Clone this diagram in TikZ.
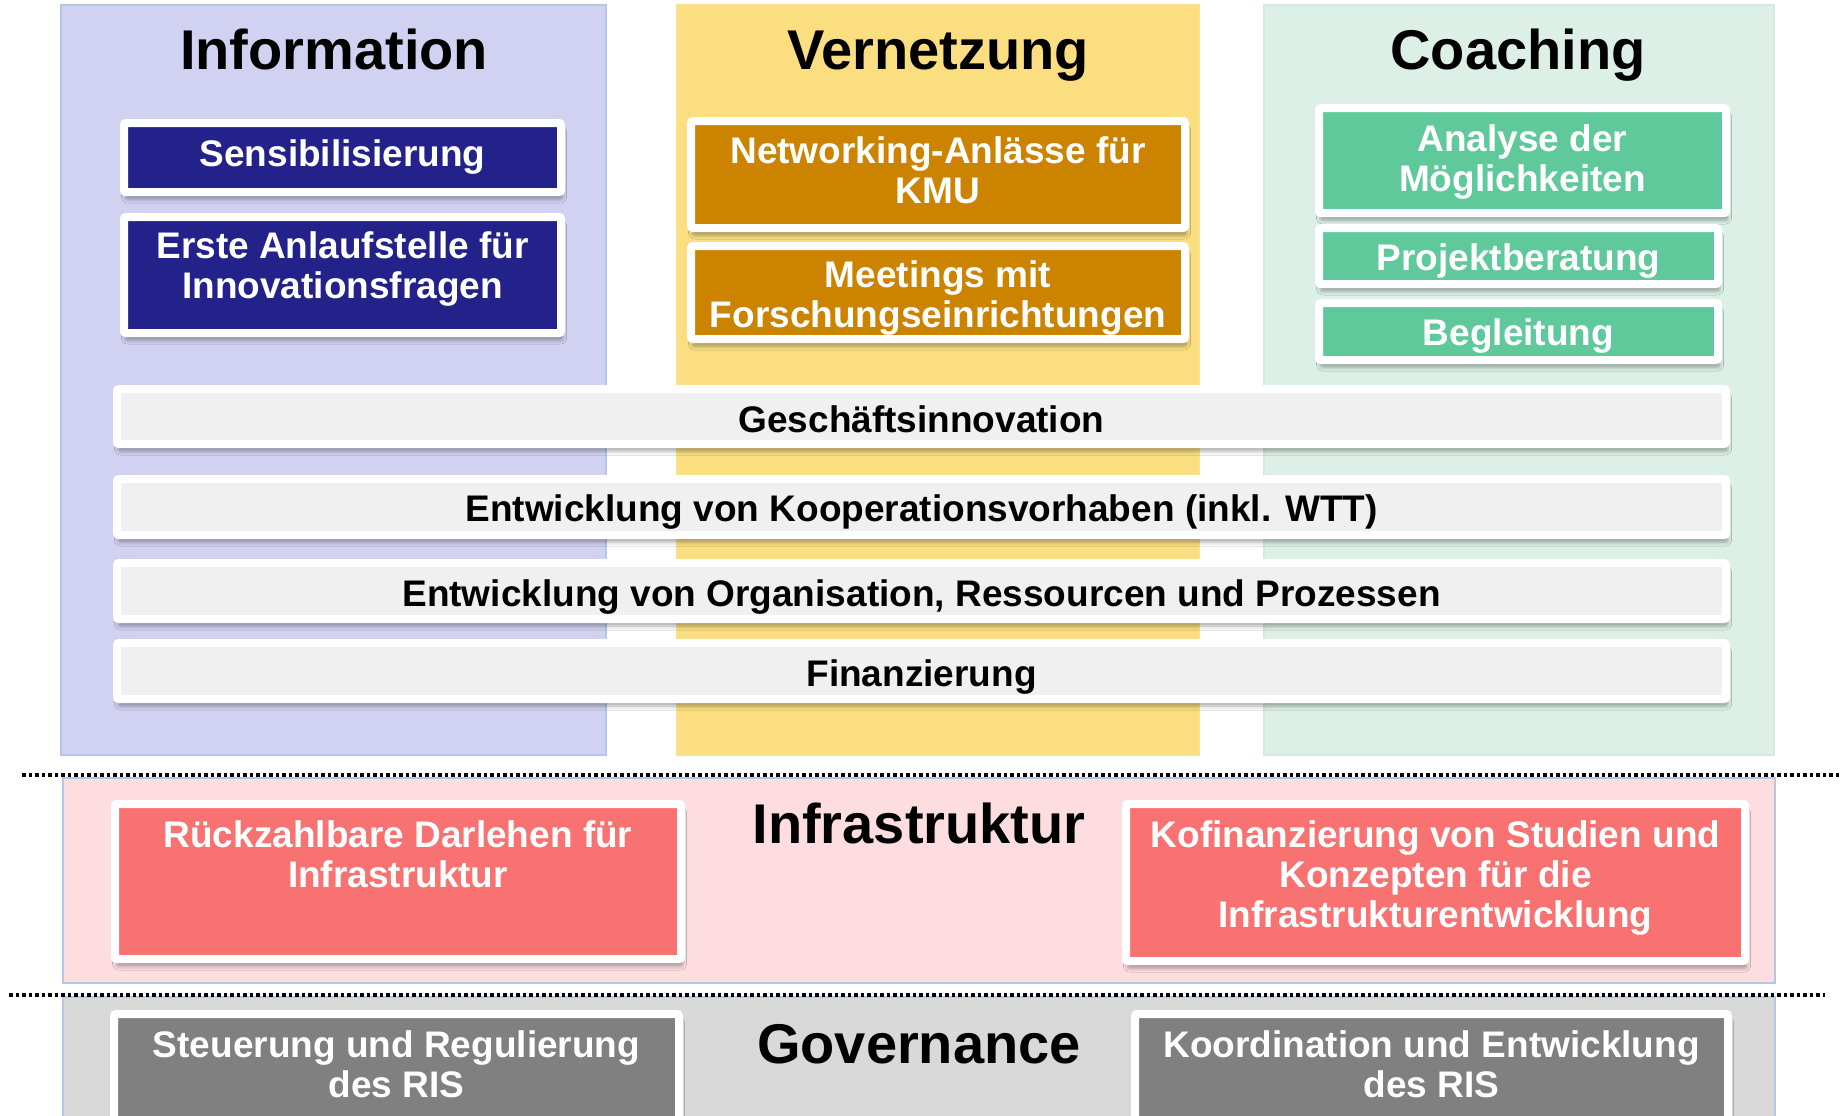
\documentclass[tikz,border=0pt]{standalone}
\usepackage{fontspec}
\setmainfont{Liberation Sans}
\usetikzlibrary{shadows.blur}
\definecolor{infoBg}{RGB}{209,209,242}
\definecolor{vernBg}{RGB}{250,222,128}
\definecolor{coachBg}{RGB}{221,240,231}
\definecolor{colBorder}{RGB}{180,199,231}
\definecolor{infoFill}{RGB}{34,34,138}
\definecolor{vernFill}{RGB}{204,132,0}
\definecolor{coachFill}{RGB}{95,201,156}
\definecolor{barFill}{RGB}{240,240,240}
\definecolor{infraBg}{RGB}{253,221,224}
\definecolor{infraFill}{RGB}{249,114,114}
\definecolor{govBg}{RGB}{217,217,217}
\definecolor{govFill}{RGB}{128,128,128}
\tikzset{
  colbox/.style={draw=colBorder, line width=1.2pt},
  card/.style={draw=white, line width=8pt, rounded corners=2pt, inner sep=0pt, outer sep=0pt,
    blur shadow={shadow xshift=1.5pt, shadow yshift=-7pt, shadow blur radius=4pt, shadow opacity=35}},
  titletext/.style={font=\fontsize{56}{60}\selectfont\bfseries, text=black, anchor=base, inner sep=0pt},
  wtext/.style={font=\fontsize{37}{40}\selectfont\bfseries, text=white, anchor=base, inner sep=0pt},
  btext/.style={font=\fontsize{37}{40}\selectfont\bfseries, text=black, anchor=base, inner sep=0pt},
  sepline/.style={line width=3.5pt, dash pattern=on 3.5pt off 3pt, black},
}
\begin{document}
\begin{tikzpicture}[x=1pt,y=-1pt]
\useasboundingbox (0,0) rectangle (1840,1116);
\fill[white] (0,0) rectangle (1840,1116);

% columns
\path[colbox, fill=infoBg] (61,5) rectangle (606,755);
\path[draw=vernBg!90!white, line width=1.2pt, fill=vernBg] (677,5) rectangle (1199,755);
\path[draw=coachBg!97!black, line width=1.2pt, fill=coachBg] (1264,5) rectangle (1774,755);

\node[titletext] (tinfo) at (334,70) {Information};
\node[titletext] (tvern) at (938,70) {Vernetzung};
\node[titletext] (tcoach) at (1518,70) {Coaching};

% Information cards
\node[card, fill=infoFill, minimum width=437pt, minimum height=69pt] (sens) at (342.5,157.5) {};
\node[wtext] (sens-t) at (342.5,166) {Sensibilisierung};
\node[card, fill=infoFill, minimum width=437pt, minimum height=116pt] (erste) at (342.5,275) {};
\node[wtext] (erste-t1) at (342.5,258) {Erste Anlaufstelle für};
\node[wtext] (erste-t2) at (342.5,298) {Innovationsfragen};

% Vernetzung cards
\node[card, fill=vernFill, minimum width=494pt, minimum height=107pt] (netw) at (938,174.5) {};
\node[wtext] (netw-t1) at (938,163) {Networking-Anlässe für};
\node[wtext] (netw-t2) at (938,203) {KMU};
\node[card, fill=vernFill, minimum width=494pt, minimum height=93pt] (meet) at (938,292.5) {};
\node[wtext] (meet-t1) at (938,287) {Meetings mit};
\node[wtext] (meet-t2) at (938,327) {Forschungseinrichtungen};

% Coaching cards
\node[card, fill=coachFill, minimum width=407pt, minimum height=105pt] (anal) at (1522.5,160.5) {};
\node[wtext] (anal-t1) at (1522.5,151) {Analyse der};
\node[wtext] (anal-t2) at (1522.5,191) {Möglichkeiten};
\node[card, fill=coachFill, minimum width=399pt, minimum height=56pt] (proj) at (1518.5,256) {};
\node[wtext] (proj-t) at (1518.5,270) {Projektberatung};
\node[card, fill=coachFill, minimum width=399pt, minimum height=57pt] (begl) at (1518.5,331.5) {};
\node[wtext] (begl-t) at (1518.5,345) {Begleitung};

% horizontal bars
\node[card, fill=barFill, minimum width=1609pt, minimum height=55pt] (bar1) at (921.5,416.5) {};
\node[btext] (bar1-t) at (921.5,432) {Geschäftsinnovation};
\node[card, fill=barFill, minimum width=1609pt, minimum height=56pt] (bar2) at (921.5,507) {};
\node[btext] (bar2-t) at (921.5,521) {Entwicklung von Kooperationsvorhaben (inkl. WTT)};
\node[card, fill=barFill, minimum width=1609pt, minimum height=56pt] (bar3) at (921.5,591) {};
\node[btext] (bar3-t) at (921.5,606) {Entwicklung von Organisation, Ressourcen und Prozessen};
\node[card, fill=barFill, minimum width=1609pt, minimum height=56pt] (bar4) at (921.5,671) {};
\node[btext] (bar4-t) at (921.5,686) {Finanzierung};

% Infrastruktur band
\path[colbox, fill=infraBg] (63,778) rectangle (1775,983);
\node[titletext] (tinfra) at (919,843) {Infrastruktur};
\node[card, fill=infraFill, minimum width=566pt, minimum height=155pt] (darl) at (398,881.5) {};
\node[wtext] (darl-t1) at (398,847) {Rückzahlbare Darlehen für};
\node[wtext] (darl-t2) at (398,887) {Infrastruktur};
\node[card, fill=infraFill, minimum width=619pt, minimum height=157pt] (kofi) at (1435.5,882.5) {};
\node[wtext] (kofi-t1) at (1435.5,847) {Kofinanzierung von Studien und};
\node[wtext] (kofi-t2) at (1435.5,887) {Konzepten für die};
\node[wtext] (kofi-t3) at (1435.5,927) {Infrastrukturentwicklung};

% Governance band
\path[colbox, fill=govBg] (63,997) rectangle (1775,1140);
\node[titletext] (tgov) at (919,1063) {Governance};
\node[card, fill=govFill, minimum width=565pt, minimum height=112pt] (steu) at (396.5,1070) {};
\node[wtext] (steu-t1) at (396.5,1057) {Steuerung und Regulierung};
\node[wtext] (steu-t2) at (396.5,1097) {des RIS};
\node[card, fill=govFill, minimum width=593pt, minimum height=112pt] (koor) at (1431.5,1070) {};
\node[wtext] (koor-t1) at (1431.5,1057) {Koordination und Entwicklung};
\node[wtext] (koor-t2) at (1431.5,1097) {des RIS};

% dotted separators
\coordinate (s1a) at (22,775);
\coordinate (s1b) at (1840,775);
\coordinate (s2a) at (9,995);
\coordinate (s2b) at (1825,995);
\draw[sepline] (s1a) -- (s1b);
\draw[sepline] (s2a) -- (s2b);
\end{tikzpicture}
\end{document}
